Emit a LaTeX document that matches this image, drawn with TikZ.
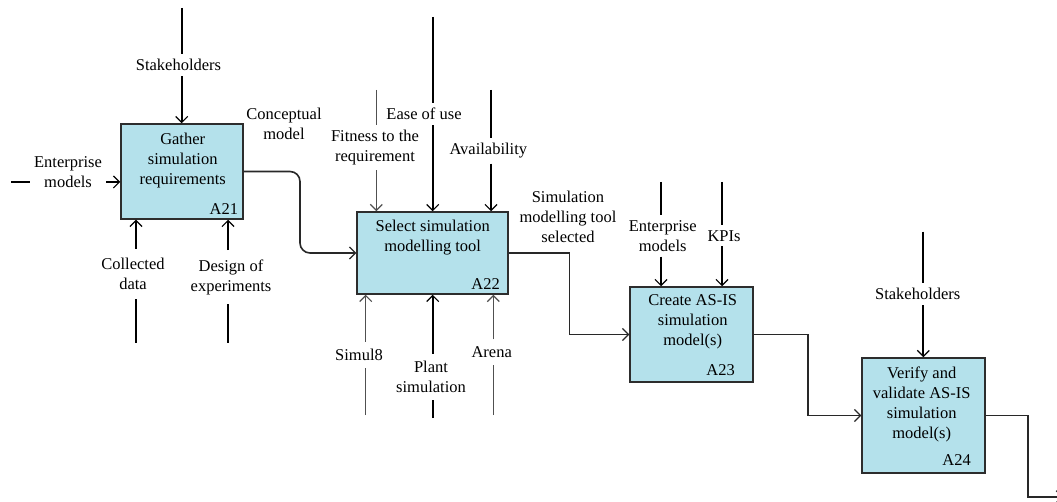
\documentclass[tikz,border=0pt]{standalone}
\usepackage{fontspec}
\setmainfont{Liberation Serif}
\usetikzlibrary{arrows.meta}
\definecolor{boxblue}{RGB}{180,225,235}
\definecolor{boxline}{RGB}{45,45,45}
\definecolor{flowgray}{RGB}{40,40,40}
\definecolor{thingray}{RGB}{80,80,80}
\tikzset{
  tip/.style={-{Straight Barb[length=6pt,width=12pt,line width=1.2pt]}},
  actbox/.style={draw=boxline, line width=1.5pt, fill=boxblue, inner sep=0pt},
  txt/.style={font=\rmfamily\fontsize{16.5}{20}\selectfont, align=center, inner sep=0pt},
  lbl/.style={txt, inner xsep=4pt, inner ysep=5pt},
  boxid/.style={font=\rmfamily\fontsize{16.5}{20}\selectfont, inner sep=0pt, anchor=base east},
  heavy/.style={tip, line width=2pt, black},
  light/.style={tip, line width=1pt, thingray},
  flow/.style={tip, line width=1.6pt, flowgray},
}
\begin{document}
\begin{tikzpicture}[x=1pt,y=-1pt]
\useasboundingbox (0,0) rectangle (1057,502);

% activity boxes
\node[actbox, minimum width=122pt, minimum height=95pt] (a21) at (182,171.5) {};
\node[actbox, minimum width=151pt, minimum height=82pt] (a22) at (432.5,253) {};
\node[actbox, minimum width=123pt, minimum height=95pt] (a23) at (691.5,334.5) {};
\node[actbox, minimum width=123pt, minimum height=115pt] (a24) at (923.5,415.5) {};

% titles
\node[txt] (t21) at (182.7,161) {Gather\\simulation\\requirements};
\node[txt] (t22) at (432.7,237.5) {Select simulation\\modelling tool};
\node[txt] (t23) at (692.7,321.7) {Create AS-IS\\simulation\\model(s)};
\node[txt] (t24) at (921.7,404.8) {Verify and\\validate AS-IS\\simulation\\model(s)};

% ids
\node[boxid] (i21) at (238.3,215) {A21};
\node[boxid] (i22) at (500,290) {A22};
\node[boxid] (i23) at (735,375) {A23};
\node[boxid] (i24) at (971,465) {A24};

% ---- A21 arrows ----
\coordinate (s21) at (181.7,8);
\node[lbl] (l21s) at (178.5,65) {Stakeholders};
\draw[line width=2pt] (s21) -- (s21 |- l21s.north);
\draw[heavy] (s21 |- l21s.south) -- (s21 |- a21.north);

\coordinate (e21) at (11,182);
\node[lbl] (l21e) at (68,172) {Enterprise\\models};
\draw[line width=2pt] (e21) -- (e21 -| l21e.west);
\draw[heavy] (l21e.east |- e21) -- (a21.west |- e21);

\coordinate (c21) at (136,343);
\node[lbl, inner ysep=9pt] (l21c) at (133,274) {Collected\\data};
\draw[line width=2pt] (c21) -- (c21 |- l21c.south);
\draw[heavy] (c21 |- l21c.north) -- (c21 |- a21.south);

\coordinate (d21) at (228,343);
\node[lbl, inner ysep=9pt] (l21d) at (231,277) {Design of\\experiments};
\draw[line width=2pt] (d21) -- (d21 |- l21d.south);
\draw[heavy] (d21 |- l21d.north) -- (d21 |- a21.south);

\node[txt] (l21o) at (284,123.5) {Conceptual\\model};

% ---- A22 arrows ----
\coordinate (f22) at (376.3,90);
\node[lbl] (l22f) at (375,147.5) {Fitness to the\\requirement};
\draw[line width=1pt, thingray] (f22) -- (f22 |- l22f.north);
\draw[light] (f22 |- l22f.south) -- (f22 |- a22.north);

\coordinate (u22) at (432.7,17);
\node[lbl] (l22u) at (424,114) {Ease of use};
\draw[line width=2pt] (u22) -- (u22 |- l22u.north);
\draw[heavy] (u22 |- l22u.south) -- (u22 |- a22.north);

\coordinate (v22) at (491,90);
\node[lbl] (l22v) at (488.3,151) {Availability};
\draw[line width=2pt] (v22) -- (v22 |- l22v.north);
\draw[heavy] (v22 |- l22v.south) -- (v22 |- a22.north);

\coordinate (m22) at (365.7,415);
\node[lbl, inner ysep=7pt] (l22m) at (359,355) {Simul8};
\draw[line width=1pt, thingray] (m22) -- (m22 |- l22m.south);
\draw[light] (m22 |- l22m.north) -- (m22 |- a22.south);

\coordinate (p22) at (432.7,418);
\node[lbl, inner ysep=7pt] (l22p) at (431,377) {Plant\\simulation};
\draw[line width=2pt] (p22) -- (p22 |- l22p.south);
\draw[heavy] (p22 |- l22p.north) -- (p22 |- a22.south);

\coordinate (r22) at (493.3,415);
\node[lbl, inner ysep=7pt] (l22r) at (491.7,352) {Arena};
\draw[line width=1pt, thingray] (r22) -- (r22 |- l22r.south);
\draw[light] (r22 |- l22r.north) -- (r22 |- a22.south);

\node[txt] (l22o) at (568,217) {Simulation\\modelling tool\\selected};

% ---- A23 arrows ----
\coordinate (e23) at (661,182);
\node[lbl] (l23e) at (662.7,236) {Enterprise\\models};
\draw[line width=2pt] (e23) -- (e23 |- l23e.north);
\draw[heavy] (e23 |- l23e.south) -- (e23 |- a23.north);

\coordinate (k23) at (722,182);
\node[lbl] (l23k) at (724,235.7) {KPIs};
\draw[line width=2pt] (k23) -- (k23 |- l23k.north);
\draw[heavy] (k23 |- l23k.south) -- (k23 |- a23.north);

% ---- A24 arrows ----
\coordinate (s24) at (923.3,231.7);
\node[lbl] (l24s) at (917.7,294.3) {Stakeholders};
\draw[line width=2pt] (s24) -- (s24 |- l24s.north);
\draw[heavy] (s24 |- l24s.south) -- (s24 |- a24.north);

% ---- flows between activities ----
\coordinate (k1) at (300,212);
\draw[flow, rounded corners=10pt] (a21.east) -| (k1) |- (a22.west);
\coordinate (k2) at (569.3,290);
\draw[flow] (a22.east) -| (k2) |- (a23.west);
\coordinate (k3) at (807.7,380);
\draw[flow] (a23.east) -| (k3) |- (a24.west);
\coordinate (k4) at (1027.7,460);
\coordinate (out24) at (1063,496.7);
\draw[flow] (a24.east) -| (k4) |- (out24);
\end{tikzpicture}
\end{document}
